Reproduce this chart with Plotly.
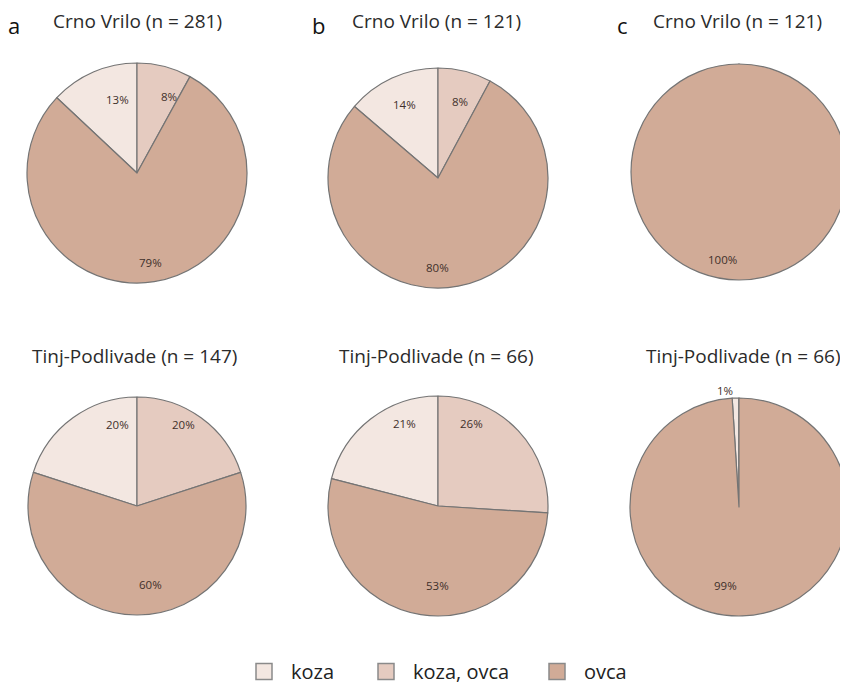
import math
import plotly.graph_objects as go

# ---- data ----
labels = ["koza", "koza, ovca", "ovca"]
crno_vrilo_a = [13, 8, 79]
crno_vrilo_b = [14, 8, 80]
crno_vrilo_c = [0, 0, 100]
tinj_podlivade_a = [20, 20, 60]
tinj_podlivade_b = [21, 26, 53]
tinj_podlivade_c = [1, 0, 99]
titles = ["Crno Vrilo (n = 281)", "Crno Vrilo (n = 121)", "Crno Vrilo (n = 121)",
          "Tinj-Podlivade (n = 147)", "Tinj-Podlivade (n = 66)", "Tinj-Podlivade (n = 66)"]
panel_letters = ["a", "b", "c"]

# ---- layout / style ----
OFF = 8                      # page body margin of the browser
W, H = 848 - OFF, 686 - OFF  # figure size so that it ends at the window edge
colors = ["#F3E7E1", "#E5CBC0", "#D1AB97"]
edge = "#747474"
font_family = "Open Sans, Noto Sans, sans-serif"
# window-pixel centre and radius of each pie
geo = [(137, 173, 110), (438, 178, 110), (739, 172, 108),
       (137, 506, 109), (438, 506, 110), (739, 507, 109)]
title_pos = [(137, 21), (437, 21), (737, 21), (135, 356), (437, 356), (743, 356)]
letter_pos = [(14, 8), (318, 8), (622, 8)]
legend_box_x = [265, 387, 558]
MAX_TOP_ANGLE = 22.0   # labels of upper slices are kept near the top of the pie


def px_x(x):
    return (x - OFF) / W


def px_y(y):
    return 1 - (y - OFF) / H


series = [crno_vrilo_a, crno_vrilo_b, crno_vrilo_c,
          tinj_podlivade_a, tinj_podlivade_b, tinj_podlivade_c]

fig = go.Figure()
annotations = []
for i, vals in enumerate(series):
    cx, cy, r = geo[i]
    total = sum(vals)
    rot = -360.0 * vals[0] / total  # koza slice ends at 12 o'clock
    fig.add_trace(go.Pie(
        labels=labels, values=vals, sort=False, direction="clockwise",
        rotation=rot, textinfo="none", hoverinfo="label+percent",
        marker=dict(colors=colors, line=dict(color=edge, width=1.2)),
        domain=dict(x=[px_x(cx - r), px_x(cx + r)],
                    y=[px_y(cy + r), px_y(cy - r)]),
        showlegend=False, name=titles[i],
    ))
    # slice value labels
    cum = 0.0
    for v in vals:
        if v > 0:
            a0 = rot + 360.0 * cum / total
            a1 = rot + 360.0 * (cum + v) / total
            mid = (a0 + a1) / 2.0
            if a0 <= 180.0 <= a1:
                ang = 180.0            # dominant slice: label at the bottom
            else:
                ang = max(-MAX_TOP_ANGLE, min(MAX_TOP_ANGLE, mid))
            k = 0.81 if v >= 3 else 1.07
            lx = cx + r * k * math.sin(math.radians(ang))
            ly = cy - r * k * math.cos(math.radians(ang))
            annotations.append(dict(
                x=px_x(lx), y=px_y(ly), xref="paper", yref="paper",
                text=f"{v}%", showarrow=False,
                font=dict(size=11.5, color="#3f302b", family=font_family)))
        cum += v
    # title
    tx, ty = title_pos[i]
    annotations.append(dict(
        x=px_x(tx), y=px_y(ty), xref="paper", yref="paper",
        text=titles[i], showarrow=False, xanchor="center", yanchor="middle",
        font=dict(size=19, color="#2b2b2b", family=font_family)))

for j, letter in enumerate(panel_letters):
    lx, ly = letter_pos[j]
    annotations.append(dict(
        x=px_x(lx), y=px_y(ly), xref="paper", yref="paper",
        text=letter, showarrow=False, xanchor="center", yanchor="top",
        font=dict(size=22, color="#111111", family=font_family)))

# legend entries (one legend per category so their spacing follows the reference)
legend_names = ["legend", "legend2", "legend3"]
for j, lab in enumerate(labels):
    fig.add_trace(go.Scatter(
        x=[None], y=[None], mode="markers", name=lab, legend=legend_names[j],
        marker=dict(symbol="square", size=24, color=colors[j],
                    line=dict(color="#8a8a8a", width=1.5)),
        showlegend=True, hoverinfo="skip",
    ))

legend_common = dict(orientation="h", xanchor="left", yanchor="bottom",
                     y=-5 / H,
                     font=dict(size=20, color="#222222", family=font_family),
                     itemwidth=44, bgcolor="rgba(0,0,0,0)")
fig.update_layout(
    width=W, height=H, margin=dict(l=0, r=0, t=0, b=0, autoexpand=False),
    paper_bgcolor="white", plot_bgcolor="white",
    annotations=annotations,
    xaxis=dict(visible=False), yaxis=dict(visible=False),
    legend=dict(x=px_x(legend_box_x[0] - 28), **legend_common),
    legend2=dict(x=px_x(legend_box_x[1] - 28), **legend_common),
    legend3=dict(x=px_x(legend_box_x[2] - 28), **legend_common),
)

fig.write_html("out.html")
